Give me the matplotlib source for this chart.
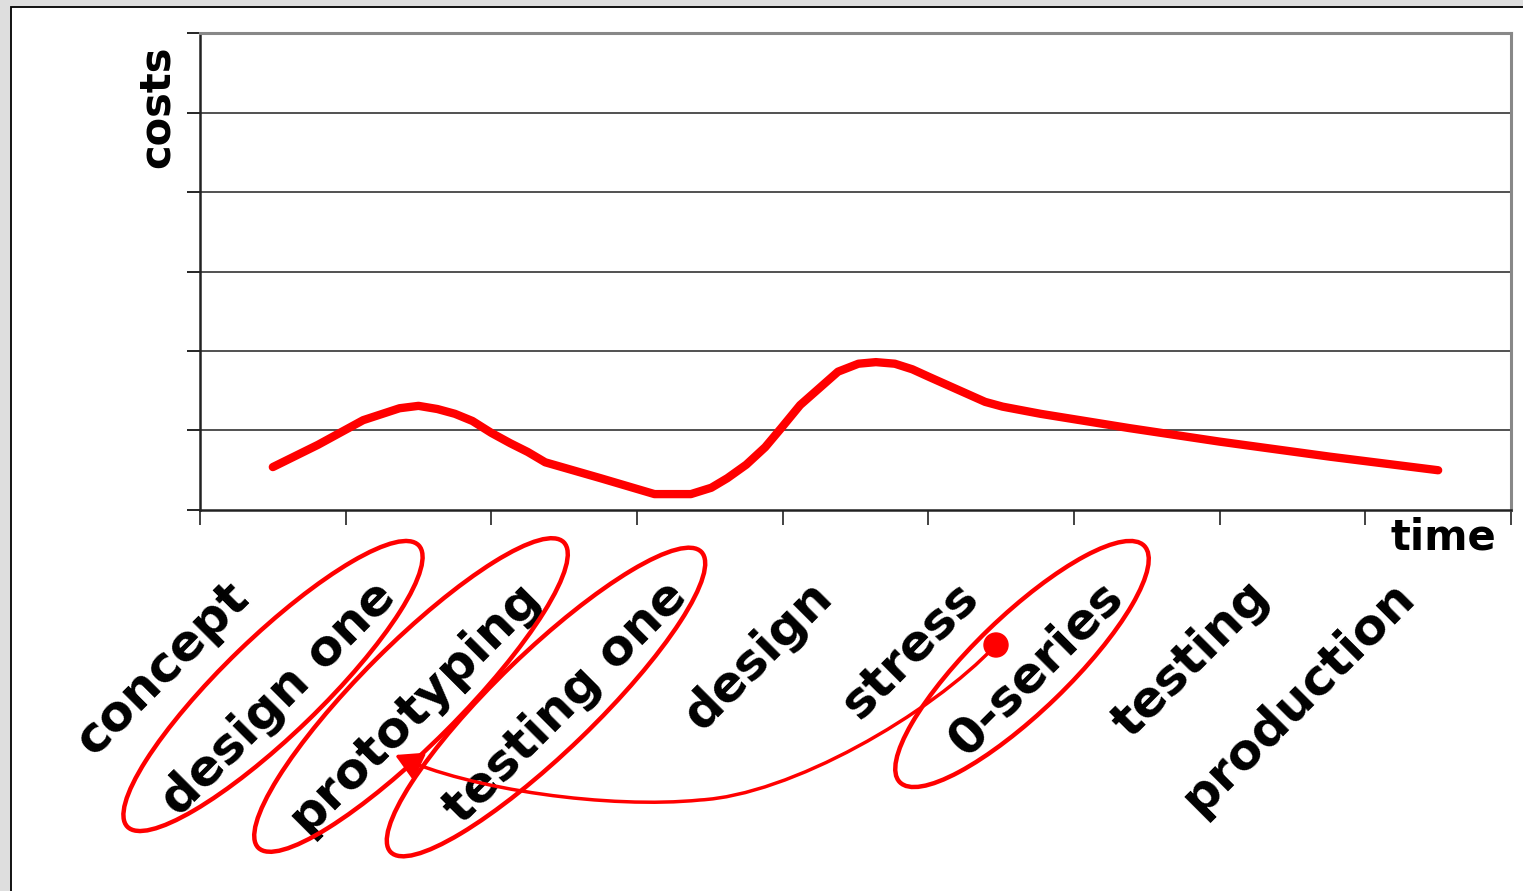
import matplotlib
matplotlib.use("Agg")
import matplotlib.pyplot as plt
from matplotlib.patches import Ellipse, Rectangle, FancyArrowPatch, Circle
from matplotlib.path import Path
import matplotlib.transforms as mtransforms

# ---- data ----
categories = ["concept", "design one", "prototyping", "testing one", "design",
              "stress", "0-series", "testing", "production"]
circled = ["design one", "prototyping", "testing one", "0-series"]
time_pos = [0.50, 0.81, 1.12, 1.37, 1.50, 1.63, 1.75, 1.87, 2.00, 2.13, 2.25,
            2.37, 2.75, 3.12, 3.37, 3.51, 3.62, 3.75, 3.88, 3.99, 4.12, 4.25,
            4.38, 4.52, 4.64, 4.77, 4.89, 5.01, 5.39, 5.51, 5.77, 6.38, 7.00,
            7.76, 8.50]
costs = [0.54, 0.82, 1.13, 1.28, 1.31, 1.27, 1.21, 1.12, 0.97, 0.84, 0.73,
         0.60, 0.40, 0.20, 0.20, 0.28, 0.40, 0.57, 0.79, 1.03, 1.32, 1.53,
         1.74, 1.84, 1.86, 1.84, 1.77, 1.67, 1.36, 1.30, 1.21, 1.03, 0.86,
         0.67, 0.50]
y_ticks = [0, 1, 2, 3, 4, 5, 6]

W, H = 1523, 891
fig = plt.figure(figsize=(W / 100, H / 100), dpi=100)
fig.patch.set_facecolor("#dedede")
pix = mtransforms.Affine2D().scale(1 / W, 1 / H) + fig.transFigure

# white slide frame
frame = Rectangle((11, -100), 2000, H - 6.5 + 100, transform=pix,
                  facecolor="white", edgecolor="black", lw=1.3, zorder=-10)
fig.patches.append(frame)

ax = fig.add_axes([200 / W, 1 - 510 / H, (1511 - 200) / W, (510 - 33) / H], zorder=1)
ax.set_facecolor("white")
ax.set_xlim(0, len(categories))
ax.set_ylim(min(y_ticks), max(y_ticks))
ax.set_xticks(range(len(categories) + 1))
ax.set_xticklabels([])
ax.set_yticks(y_ticks)
ax.set_yticklabels([])
ax.tick_params(axis="y", direction="out", length=9.5, width=1.2, color="black")
ax.tick_params(axis="x", direction="out", length=11, width=1.2, color="#222222")
for yv in y_ticks[1:-1]:
    ax.axhline(yv, color="#222222", lw=1.1, zorder=1)
ax.spines["left"].set_color("#222222")
ax.spines["left"].set_linewidth(1.8)
ax.spines["bottom"].set_color("#222222")
ax.spines["bottom"].set_linewidth(1.8)
ax.spines["top"].set_color("#888888")
ax.spines["top"].set_linewidth(2.2)
ax.spines["right"].set_color("#888888")
ax.spines["right"].set_linewidth(2.2)

ax.plot(time_pos, costs, color="#ff0000", lw=6, solid_capstyle="round",
        solid_joinstyle="round", zorder=3)

# axis titles
fig.text(157 / W, 1 - 45 / H, "costs", rotation=90, ha="center", va="top",
         fontsize=30, fontweight="bold", family="DejaVu Sans")
fig.text(1496 / W, 1 - 517 / H, "time", ha="right", va="top",
         fontsize=30, fontweight="bold", family="DejaVu Sans")

# category labels
for i, lab in enumerate(categories):
    ax.annotate(lab, xy=(i + 0.5, 0), xycoords=("data", "axes fraction"),
                xytext=(-31, -79), textcoords="offset pixels",
                rotation=45, rotation_mode="anchor", ha="right", va="center",
                fontsize=36, fontweight="bold", family="DejaVu Sans",
                annotation_clip=False)

# red hand-drawn annotations (figure pixel positions, y measured from top)
ellipses = [((273, 686), 405, 98, 44), ((411, 695), 432, 100, 45),
            ((546, 702), 432, 100, 44), ((1022, 664), 340, 96, 44)]
for (cx, cy), w, h, ang in ellipses:
    e = Ellipse((cx, H - cy), w, h, angle=ang, transform=pix,
                fill=False, edgecolor="red", lw=3.2, zorder=20)
    fig.patches.append(e)

pts = [(996, 645), (930, 715), (790, 795), (700, 800),
       (610, 809), (470, 790), (395, 755)]
verts = [(x, H - y) for x, y in pts]
codes = [Path.MOVETO] + [Path.CURVE4] * 6
path = Path(verts, codes)
arrow = FancyArrowPatch(path=path, transform=pix,
                        arrowstyle="-|>,head_length=16,head_width=9",
                        color="red", lw=2.5, mutation_scale=1, zorder=20)
fig.patches.append(arrow)
dot = Circle((996, H - 645), 12, transform=pix, color="red", zorder=20)
fig.patches.append(dot)

fig.savefig("out.png", dpi=100, facecolor=fig.get_facecolor())
